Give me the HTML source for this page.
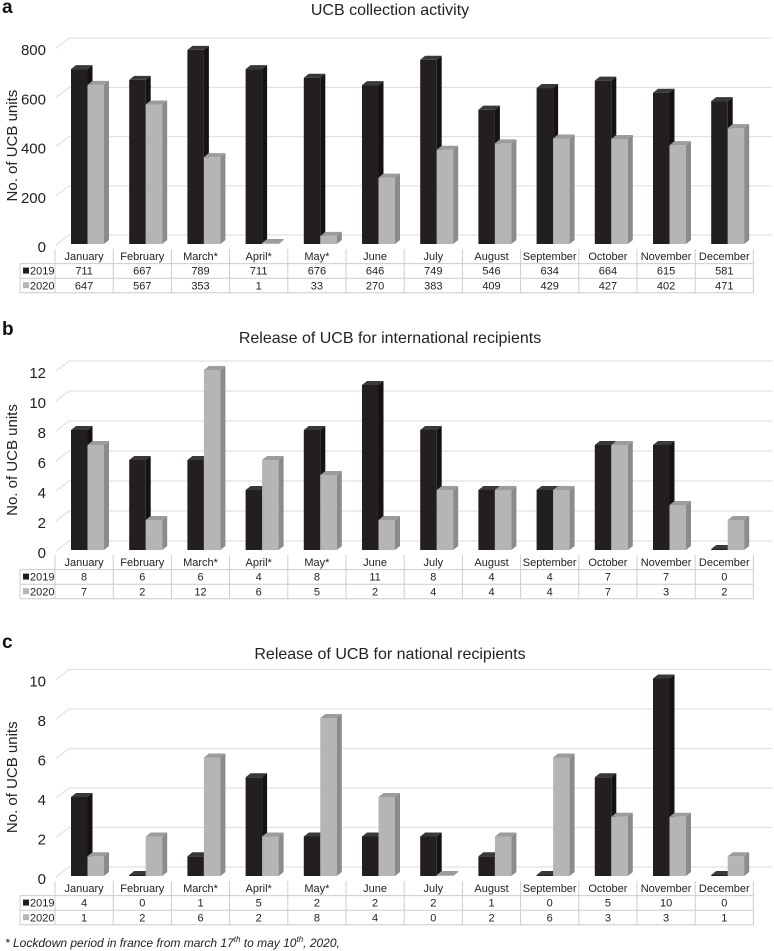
<!DOCTYPE html>
<html><head><meta charset="utf-8"><style>
html,body{margin:0;padding:0;background:#fff;}
svg{display:block;font-family:"Liberation Sans",Arial,sans-serif;}
</style></head><body>
<svg id="chart" width="774" height="951" viewBox="0 0 774 951" xmlns="http://www.w3.org/2000/svg"></svg>
<script>
const months = ["January","February","March*","April*","May*","June","July","August","September","October","November","December"];
const collection2019 = [711,667,789,711,676,646,749,546,634,664,615,581];
const collection2020 = [647,567,353,1,33,270,383,409,429,427,402,471];
const international2019 = [8,6,6,4,8,11,8,4,4,7,7,0];
const international2020 = [7,2,12,6,5,2,4,4,4,7,3,2];
const national2019 = [4,0,1,5,2,2,2,1,0,5,10,0];
const national2020 = [1,2,6,2,8,4,0,2,6,3,3,1];
const ticksA = [0,200,400,600,800];
const ticksB = [0,2,4,6,8,10,12];
const ticksC = [0,2,4,6,8,10];

const NS="http://www.w3.org/2000/svg";
const svg=document.getElementById('chart');
function mk(tag,attrs,parent){const e=document.createElementNS(NS,tag);for(const k in attrs)e.setAttribute(k,attrs[k]);(parent||svg).appendChild(e);return e;}
function txt(s,attrs,parent){const e=mk('text',attrs,parent);e.textContent=s;return e;}

const colX0=55, colW=58.2;
const panels=[
 {key:'a',title:'UCB collection activity',titleY:15,labelY:13,y0:244,scale:0.246,ticks:ticksA,s19:collection2019,s20:collection2020},
 {key:'b',title:'Release of UCB for international recipients',titleY:343,labelY:335,y0:550,scale:15,ticks:ticksB,s19:international2019,s20:international2020},
 {key:'c',title:'Release of UCB for national recipients',titleY:659,labelY:648,y0:876,scale:19.75,ticks:ticksC,s19:national2019,s20:national2020}
];

function bar(g,x,yBase,h,front,top,side,name){
  const w=16.5,dx=5,dy=4;
  const yt=yBase-Math.max(h,1);
  const grp=mk('g',{},g);
  
  
  mk('rect',{x:x,y:yt,width:w,height:yBase-yt,fill:front},grp);
  mk('polygon',{points:`${x},${yt} ${x+dx},${yt-dy} ${x+w+dx},${yt-dy} ${x+w},${yt}`,fill:top},grp);
  mk('polygon',{points:`${x+w},${yt} ${x+w+dx},${yt-dy} ${x+w+dx},${yBase-dy} ${x+w},${yBase}`,fill:side},grp);
}

panels.forEach(p=>{
  const g=mk('g',{});
  
  
  const yv=v=>p.y0-v*p.scale;
  const lab=txt(p.key,{x:2,y:p.labelY,'font-size':19,'font-weight':'bold',fill:'#111'},g);
  
  
  const t=txt(p.title,{x:390,y:p.titleY,'font-size':16,'text-anchor':'middle',fill:'#222'},g);
  
  
  // gridlines + ticks
  p.ticks.forEach(v=>{
    const y=yv(v);
    const gl=mk('polyline',{points:`56,${y+1} 69,${y-9} 772,${y-9}`,fill:'none',stroke:'#e2e2e2','stroke-width':1.2},g);
    
    
    const tl=txt(String(v),{x:46,y:y+8,'font-size':15,'text-anchor':'end',fill:'#222'},g);
    
    
  });
  const top=yv(p.ticks[p.ticks.length-1]);
  const mid=(top+p.y0)/2;
  const yt=txt('No. of UCB units',{x:0,y:0,'font-size':15,'text-anchor':'middle',fill:'#222',transform:`translate(17,${mid}) rotate(-90)`},g);
  
  
  // bars
  months.forEach((m,i)=>{
    const cx=colX0+i*colW;
    bar(g,cx+16,p.y0,p.s19[i]*p.scale,'#231f20','#3b3839','#141213','bar-2019-'+i);
    bar(g,cx+32.5,p.y0,p.s20[i]*p.scale,'#b5b5b5','#9c9c9c','#8b8b8b','bar-2020-'+i);
  });
  // table
  const rt=p.y0+5, rh=14.6;
  const tg=mk('g',{},g);
  
  
  const right=colX0+12*colW;
  mk('line',{x1:colX0,y1:rt,x2:colX0,y2:rt+3*rh,stroke:'#ccc'},tg);
  for(let i=1;i<=12;i++){const x=colX0+i*colW;mk('line',{x1:x,y1:rt,x2:x,y2:rt+3*rh,stroke:'#ccc'},tg);}
  mk('line',{x1:20,y1:rt+rh,x2:right,y2:rt+rh,stroke:'#ccc'},tg);
  mk('line',{x1:20,y1:rt+2*rh,x2:right,y2:rt+2*rh,stroke:'#ccc'},tg);
  mk('line',{x1:20,y1:rt+3*rh,x2:right,y2:rt+3*rh,stroke:'#ccc'},tg);
  mk('line',{x1:20,y1:rt+rh,x2:20,y2:rt+3*rh,stroke:'#ccc'},tg);
  months.forEach((m,i)=>{
    const cx=colX0+i*colW+colW/2;
    const ml=txt(m,{x:cx,y:rt+rh-3.5,'font-size':11,'text-anchor':'middle',fill:'#222'},tg);
    
    
    const a=txt(String(p.s19[i]),{x:cx,y:rt+2*rh-3.5,'font-size':11,'text-anchor':'middle',fill:'#222'},tg);
    
    
    const b=txt(String(p.s20[i]),{x:cx,y:rt+3*rh-3.5,'font-size':11,'text-anchor':'middle',fill:'#222'},tg);
    
    
  });
  const l1=mk('rect',{x:23,y:rt+rh+4,width:6,height:6,fill:'#231f20'},tg);
  
  
  const lt1=txt('2019',{x:30,y:rt+2*rh-3.5,'font-size':11,fill:'#222'},tg);
  
  
  const l2=mk('rect',{x:23,y:rt+2*rh+4,width:6,height:6,fill:'#b5b5b5'},tg);
  
  
  const lt2=txt('2020',{x:30,y:rt+3*rh-3.5,'font-size':11,fill:'#222'},tg);
  
  
});
</script>
<svg width="0" height="0"></svg>
<div style="position:absolute;left:5px;top:935px;font-family:'Liberation Sans',Arial,sans-serif;font-style:italic;font-size:12px;color:#222;">* Lockdown period in france from march 17<sup style="font-size:8px">th</sup> to may 10<sup style="font-size:8px">th</sup>, 2020,</div>
</body></html>
